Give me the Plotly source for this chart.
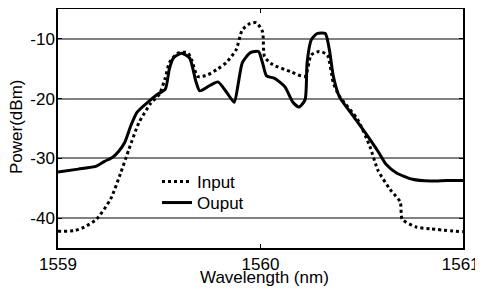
import plotly.graph_objects as go

# Data
out_wl = [1559.00, 1559.10, 1559.19, 1559.23, 1559.27, 1559.30, 1559.33, 1559.36, 1559.39, 1559.44,
          1559.49, 1559.53, 1559.55, 1559.57, 1559.61, 1559.65, 1559.68, 1559.70, 1559.75, 1559.79,
          1559.83, 1559.87, 1559.89, 1559.91, 1559.95, 1559.99, 1560.01, 1560.03, 1560.07, 1560.12,
          1560.16, 1560.19, 1560.22, 1560.23, 1560.25, 1560.28, 1560.32, 1560.34, 1560.36, 1560.39,
          1560.46, 1560.53, 1560.58, 1560.62, 1560.67, 1560.75, 1560.84, 1560.92, 1561.00]
out_pw = [-32.3, -31.8, -31.3, -30.5, -29.8, -28.8, -27.3, -24.5, -22.3, -20.7,
          -19.3, -18.4, -15.0, -13.2, -12.4, -13.2, -17.0, -18.7, -17.8, -17.2,
          -18.8, -20.6, -17.5, -14.0, -12.3, -12.1, -14.0, -16.2, -16.6, -18.0,
          -20.6, -21.4, -20.2, -14.0, -10.2, -9.1, -9.1, -11.8, -16.3, -19.7,
          -23.0, -26.3, -28.8, -31.0, -32.4, -33.5, -33.8, -33.7, -33.7]

in_wl = [1559.00, 1559.08, 1559.13, 1559.19, 1559.26, 1559.31, 1559.35, 1559.40, 1559.46, 1559.50,
         1559.53, 1559.55, 1559.59, 1559.64, 1559.66, 1559.69, 1559.74, 1559.79, 1559.83, 1559.88,
         1559.91, 1559.95, 1559.98, 1560.01, 1560.02, 1560.06, 1560.15, 1560.22, 1560.25, 1560.29,
         1560.33, 1560.36, 1560.39, 1560.48, 1560.54, 1560.58, 1560.64, 1560.69, 1560.70, 1560.77,
         1560.84, 1561.00]
in_pw = [-42.2, -42.1, -41.5, -40.2, -36.8, -32.4, -28.5, -24.0, -20.7, -19.3,
         -16.5, -14.0, -12.4, -12.3, -13.5, -16.3, -16.0, -15.0, -14.0, -11.8,
         -8.5, -7.4, -7.3, -8.8, -13.0, -14.3, -15.5, -16.3, -12.7, -12.1,
         -12.7, -17.4, -19.6, -23.5, -28.0, -32.0, -35.2, -37.3, -40.2, -41.5,
         -41.8, -42.3]

x_ticks = [1559, 1560, 1561]
x_ticktext = ["1559", "1560", "1561\u00a0"]
y_ticks = [-10, -20, -30, -40]

FONT = "Liberation Sans, Arial, sans-serif"
# page body has an 8px margin, so figure coordinates = screen coordinates - 8
OFF = 8
W, H = 480, 281
L, T = 58 - OFF, 9 - OFF
R = W - (463 - OFF)
B = H - (248 - OFF)
PH = H - T - B
PW = W - L - R


def py(screen_y):  # screen pixel y -> paper y
    return (H - B - (screen_y - OFF)) / PH


def px_(screen_x):  # screen pixel x -> paper x
    return (screen_x - OFF - L) / PW


fig = go.Figure()
fig.add_trace(go.Scatter(x=in_wl, y=in_pw, mode="lines", name="Input", legend="legend",
                         line=dict(color="black", width=3, dash="dot", shape="spline", smoothing=0.6)))
fig.add_trace(go.Scatter(x=out_wl, y=out_pw, mode="lines", name="Ouput", legend="legend2",
                         line=dict(color="black", width=3, shape="spline", smoothing=0.6)))

leg_common = dict(xanchor="left", yanchor="middle", bgcolor="rgba(0,0,0,0)",
                  font=dict(size=17), itemwidth=30, borderwidth=0)

fig.update_layout(
    width=W, height=H,
    margin=dict(l=L, r=R, t=T, b=B, pad=0, autoexpand=False),
    paper_bgcolor="white", plot_bgcolor="white",
    font=dict(family=FONT, size=17, color="black"),
    showlegend=True,
    legend=dict(x=px_(157), y=py(182), **leg_common),
    legend2=dict(x=px_(157), y=py(203), **leg_common),
    xaxis=dict(range=[1559, 1561], tickvals=x_ticks, ticktext=x_ticktext,
               ticks="inside", ticklen=4, tickcolor="black", showgrid=False,
               showline=True, linecolor="black", linewidth=1.5, mirror="ticks",
               zeroline=False, tickfont=dict(size=17), automargin=False,
               ticklabeloverflow="allow"),
    yaxis=dict(range=[-45, -5], tickvals=y_ticks, ticktext=[str(v) for v in y_ticks],
               ticks="inside", ticklen=4, tickcolor="black", showgrid=True,
               gridcolor="#808080", gridwidth=1.5, ticklabelstandoff=-2,
               showline=True, linecolor="black", linewidth=1.5, mirror="ticks",
               zeroline=False, tickfont=dict(size=17), automargin=False),
    annotations=[
        dict(text="Wavelength (nm)", xref="paper", yref="paper", x=px_(264), y=py(277),
             xanchor="center", yanchor="middle", showarrow=False, font=dict(size=17)),
        dict(text="Power(dBm)", xref="paper", yref="paper", x=px_(17), y=py(127),
             xanchor="center", yanchor="middle", showarrow=False, textangle=-90,
             font=dict(size=17)),
    ],
)

fig.write_html("out.html")
